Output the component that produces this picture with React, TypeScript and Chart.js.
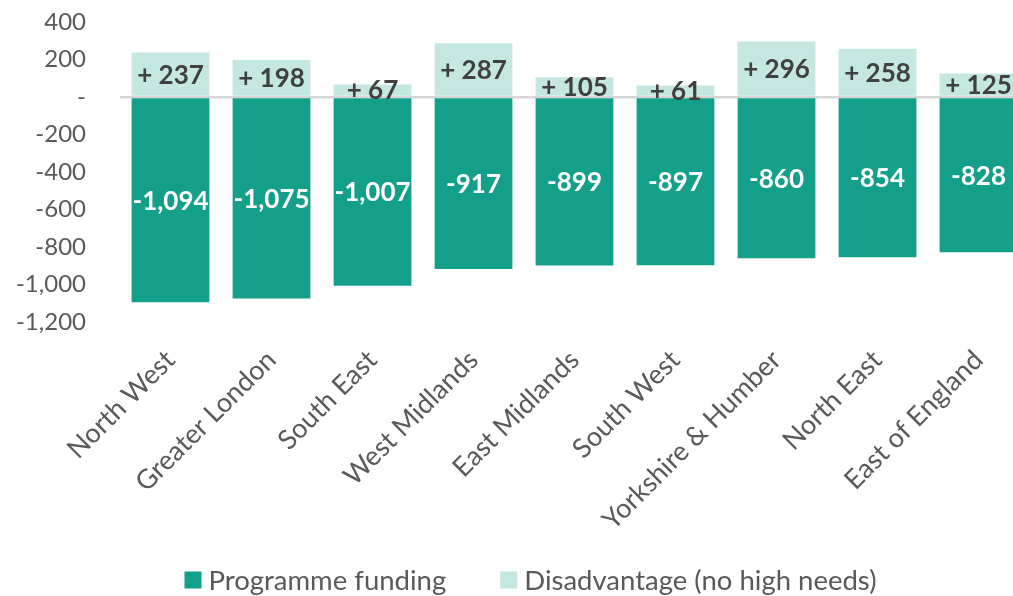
import React, { useEffect, useRef } from "react";
import { Chart, registerables } from "chart.js";

Chart.register(...registerables);

const categories = [
  "North West",
  "Greater London",
  "South East",
  "West Midlands",
  "East Midlands",
  "South West",
  "Yorkshire & Humber",
  "North East",
  "East of England",
];
const programmeFunding = [-1094, -1075, -1007, -917, -899, -897, -860, -854, -828];
const disadvantage = [237, 198, 67, 287, 105, 61, 296, 258, 125];
const seriesNames = ["Programme funding", "Disadvantage (no high needs)"];

const FONT = "Lato, 'Open Sans', sans-serif";
const DARK = "#139F8A";
const LIGHT = "#C5E7E1";
const GREY = "#595959";

const fmt = (v: number) => v.toLocaleString("en-US");

const valueLabels = {
  id: "valueLabels",
  afterDatasetsDraw(chart: any) {
    const ctx = chart.ctx;
    ctx.save();
    ctx.textAlign = "center";
    ctx.textBaseline = "middle";
    chart.data.datasets.forEach((ds: any, di: number) => {
      const meta = chart.getDatasetMeta(di);
      meta.data.forEach((el: any, i: number) => {
        const v = ds.data[i] as number;
        const y = (el.y + el.base) / 2;
        ctx.font = `bold 26px ${FONT}`;
        if (v < 0) {
          ctx.fillStyle = "#FFFFFF";
          ctx.fillText(fmt(v), el.x, y + 1);
        } else {
          ctx.fillStyle = "#404040";
          ctx.fillText("+ " + fmt(v), el.x, y + 1);
        }
      });
    });
    ctx.restore();
  },
};

// Legend drawn below the axis labels, centred on the canvas
const bottomLegend = {
  id: "bottomLegend",
  afterDraw(chart: any) {
    const ctx = chart.ctx;
    const box = 17;
    const gap = 7;
    const itemGap = 54;
    ctx.save();
    ctx.font = `27.5px ${FONT}`;
    ctx.textBaseline = "middle";
    ctx.textAlign = "left";
    const items = chart.data.datasets.map((ds: any) => ({
      text: ds.label as string,
      color: ds.backgroundColor as string,
      w: box + gap + ctx.measureText(ds.label).width,
    }));
    const total = items.reduce((a: number, it: any) => a + it.w, 0) + itemGap * (items.length - 1);
    let x = chart.width / 2 - total / 2;
    const y = chart.height - 16;
    items.forEach((it: any) => {
      ctx.fillStyle = it.color;
      ctx.fillRect(x, y - box / 2, box, box);
      ctx.fillStyle = GREY;
      ctx.fillText(it.text, x + box + gap, y + 1);
      x += it.w + itemGap;
    });
    ctx.restore();
  },
};

export default function App() {
  const ref = useRef<HTMLCanvasElement | null>(null);
  useEffect(() => {
    if (!ref.current) return;
    const chart = new Chart(ref.current, {
      type: "bar",
      data: {
        labels: categories,
        datasets: [
          {
            label: seriesNames[0],
            data: programmeFunding,
            backgroundColor: DARK,
            barPercentage: 0.77,
            categoryPercentage: 1,
          },
          {
            label: seriesNames[1],
            data: disadvantage,
            backgroundColor: LIGHT,
            barPercentage: 0.77,
            categoryPercentage: 1,
          },
        ],
      },
      options: {
        responsive: false,
        animation: false,
        layout: { padding: { top: 22, right: 32, left: 0, bottom: 0 } },
        plugins: {
          legend: { display: false },
          tooltip: { enabled: false },
        },
        scales: {
          x: {
            stacked: true,
            grid: { display: false, drawTicks: false },
            border: { display: false },
            ticks: {
              color: GREY,
              font: { family: FONT, size: 27 },
              minRotation: 45,
              maxRotation: 45,
              padding: 22,
            },
            afterFit: (s: any) => {
              s.height = 274;
            },
          },
          y: {
            stacked: true,
            min: -1200,
            max: 400,
            border: { display: false },
            grid: {
              drawTicks: false,
              lineWidth: 2.5,
              color: (c: any) => (c.tick && c.tick.value === 0 ? "#D6D6D6" : "rgba(0,0,0,0)"),
            },
            ticks: {
              stepSize: 200,
              color: GREY,
              padding: 34,
              font: { family: FONT, size: 24 },
              callback: (v: any) => (Number(v) === 0 ? "-" : fmt(Number(v))),
            },
            afterFit: (s: any) => {
              s.width = 120;
              s.paddingTop = 0;
              s.paddingBottom = 0;
            },
          },
        },
      },
      plugins: [valueLabels, bottomLegend],
    });
    return () => chart.destroy();
  }, []);
  return (
    <div
      style={{
        position: "fixed",
        left: 0,
        top: 0,
        width: 1013,
        height: 596,
        overflow: "hidden",
        background: "#fff",
      }}
    >
      <canvas ref={ref} width={1061} height={596} style={{ display: "block" }} />
    </div>
  );
}
